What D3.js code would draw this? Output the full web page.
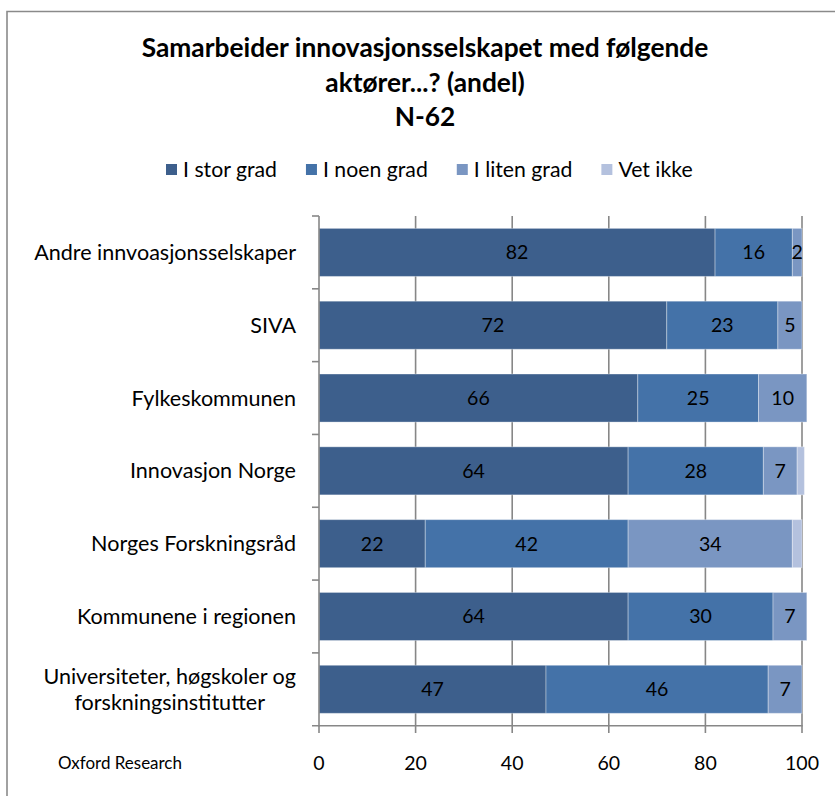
<!DOCTYPE html>
<html><head><meta charset="utf-8">
<script src="https://cdn.jsdelivr.net/npm/d3@7"></script>
<style>body{margin:0;background:#fff}svg{display:block}text{font-family:Lato,"Open Sans",sans-serif}</style>
</head><body><svg id="c" width="835" height="796"></svg>
<script>
const titleLines = ["Samarbeider innovasjonsselskapet med følgende","aktører...? (andel)","N-62"];
const categories = [["Andre innvoasjonsselskaper"],["SIVA"],["Fylkeskommunen"],["Innovasjon Norge"],["Norges Forskningsråd"],["Kommunene i regionen"],["Universiteter, høgskoler og","forskningsinstitutter"]];
const seriesNames = ["I stor grad","I noen grad","I liten grad","Vet ikke"];
const storGrad  = [82,72,66,64,22,64,47];
const noenGrad  = [16,23,25,28,42,30,46];
const litenGrad = [2,5,10,7,34,7,7];
const vetIkke   = [0,0,0,1.5,2,0,0];
const xTicks = [0,20,40,60,80,100];
const sourceText = "Oxford Research";
const colors = ["#3d5f8c","#4472a8","#7a96c2","#b4c1de"];

const svg = d3.select("#c");
function fit(text, weight, target){
  const t = svg.append("text").attr("font-size",100).attr("font-weight",weight).text(text);
  const w = t.node().getComputedTextLength(); t.remove();
  return 100*target/w;
}
const fsTitle = fit(titleLines[0],"bold",567);
const fsCat = fit("Andre innvoasjonsselskaper","normal",262);
const fsLeg = fit("I stor grad","normal",94);
const fsSrc = fit(sourceText,"normal",124);
const fsVal = fit("100","normal",34);

// border
svg.append("path").attr("d","M7,800V11.5H840").attr("fill","none").attr("stroke","#8a8a8a").attr("stroke-width",1.6);

// title
svg.append("g").selectAll("text").data(titleLines).join("text")
  .attr("x",425).attr("y",(d,i)=>48+i*34.5).attr("dy","0.35em")
  .attr("text-anchor","middle").attr("font-weight","bold").attr("font-size",fsTitle).attr("fill","#000").text(d=>d);

// legend
const lg = svg.append("g");
let lx = 166;
seriesNames.forEach((s,i)=>{
  lg.append("rect").attr("x",lx).attr("y",164).attr("width",11).attr("height",11).attr("fill",colors[i]);
  const t = lg.append("text").attr("x",lx+17).attr("y",170).attr("dy","0.35em").attr("font-size",fsLeg).attr("fill","#000").text(s);
  lx += 17 + t.node().getComputedTextLength() + 29;
});

// scales
const x = d3.scaleLinear().domain([0,100]).range([319,802]);
const y = d3.scaleBand().domain(d3.range(categories.length)).range([216,725.7]).paddingInner(0.34).paddingOuter(0.17);

// gridlines
svg.append("g").selectAll("line").data(xTicks.slice(1)).join("line")
  .attr("x1",d=>x(d)).attr("x2",d=>x(d)).attr("y1",216).attr("y2",725.7)
  .attr("stroke","#878787").attr("stroke-width",1.6);

// stacked data
const rows = categories.map((c,i)=>({i, v:[storGrad[i],noenGrad[i],litenGrad[i],vetIkke[i]]}));
const segs = [];
rows.forEach(r=>{let acc=0; r.v.forEach((v,k)=>{ if(v>0) segs.push({i:r.i,k,v,x0:acc,x1:acc+v}); acc+=v;});});

svg.append("g").selectAll("rect").data(segs).join("rect")
  .attr("x",d=>x(d.x0)).attr("width",d=>x(d.x1)-x(d.x0))
  .attr("y",d=>y(d.i)).attr("height",y.bandwidth())
  .attr("fill",d=>colors[d.k]).attr("stroke","#ffffff").attr("stroke-opacity",0.35).attr("stroke-width",1);

svg.append("g").selectAll("text").data(segs.filter(d=>d.k<3)).join("text")
  .attr("x",d=>(x(d.x0)+x(d.x1))/2).attr("y",d=>y(d.i)+y.bandwidth()/2).attr("dy","0.35em")
  .attr("text-anchor","middle").attr("font-size",fsVal).attr("fill","#000").text(d=>d.v);

// axes
const ax = svg.append("g").attr("stroke","#878787").attr("stroke-width",1.6);
ax.append("line").attr("x1",319).attr("x2",319).attr("y1",216).attr("y2",726.5);
ax.append("line").attr("x1",312).attr("x2",802.8).attr("y1",725.7).attr("y2",725.7);
const bounds = d3.range(categories.length).map(i=>y(i)-y.step()*y.paddingInner()/2);
ax.selectAll(".yt").data(bounds).join("line").attr("x1",312).attr("x2",319).attr("y1",d=>d).attr("y2",d=>d);
ax.selectAll(".xt").data(xTicks).join("line").attr("x1",d=>x(d)).attr("x2",d=>x(d)).attr("y1",725.7).attr("y2",733);

svg.append("g").selectAll("text").data(xTicks).join("text")
  .attr("x",d=>x(d)).attr("y",763).attr("dy","0.35em").attr("text-anchor","middle")
  .attr("font-size",fsVal).attr("fill","#000").text(d=>d);

// category labels
categories.forEach((lines,i)=>{
  const g = svg.append("g");
  const ts = lines.map((l,j)=>g.append("text").attr("font-size",fsCat).attr("fill","#000").attr("text-anchor","middle")
    .attr("y",y(i)+y.bandwidth()/2+(j-(lines.length-1)/2)*26).attr("dy","0.35em").text(l));
  const wmax = d3.max(ts,t=>t.node().getComputedTextLength());
  ts.forEach(t=>t.attr("x",296-wmax/2));
});

svg.append("text").attr("x",58).attr("y",763).attr("dy","0.35em").attr("font-size",fsSrc).attr("fill","#000").text(sourceText);
</script></body></html>
